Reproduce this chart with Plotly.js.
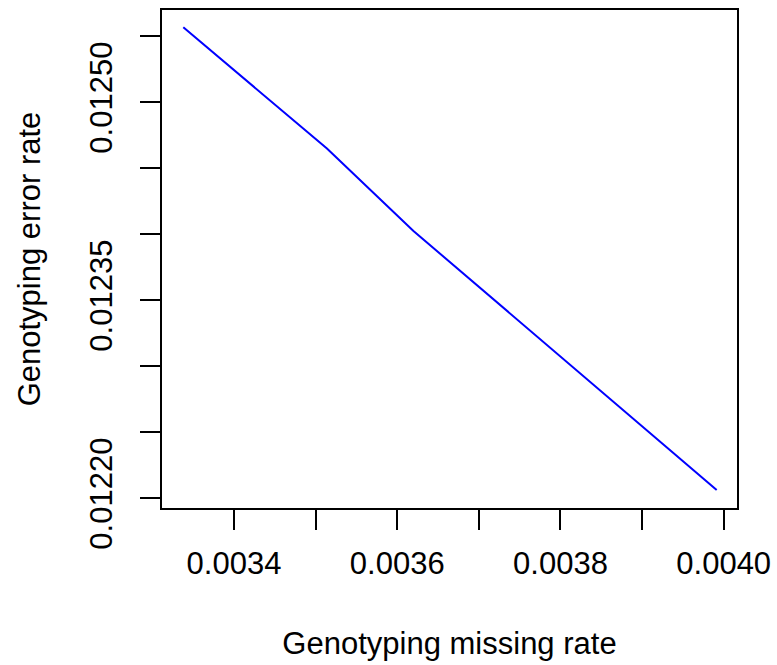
<!DOCTYPE html>
<html>
<head>
<meta charset="utf-8">
<script src="https://cdn.plot.ly/plotly-3.0.1.min.js"></script>
<style>html,body{margin:0;padding:0;background:#fff;}#chart{width:777px;height:665px;}</style>
</head>
<body>
<div id="chart"></div>
<script>
const missingRate = [0.0033379, 0.0035139, 0.0036199, 0.0039914];
const errorRate = [0.0125568, 0.0124650, 0.0124025, 0.0122063];

const xTickVals = [0.0034, 0.0035, 0.0036, 0.0037, 0.0038, 0.0039, 0.0040];
const xTickText = ["0.0034", "", "0.0036", "", "0.0038", "", "0.0040"];
const yTickVals = [0.01220, 0.01225, 0.01230, 0.01235, 0.01240, 0.01245, 0.01250, 0.01255];
const yTickText = ["0.01220", "", "", "0.01235", "", "", "0.01250", ""];

const fontFamily = "Liberation Sans, Arial, sans-serif";

const trace = {
  x: missingRate,
  y: errorRate,
  type: "scatter",
  mode: "lines",
  line: {color: "#0000ff", width: 2},
  hoverinfo: "skip"
};

const axisCommon = {
  showgrid: false,
  zeroline: false,
  showline: true,
  mirror: true,
  linecolor: "#000",
  linewidth: 2,
  ticks: "outside",
  ticklen: 20,
  tickwidth: 2,
  tickcolor: "#000",
  tickmode: "array",
  tickfont: {family: fontFamily, size: 31, color: "#000"}
};

const layout = {
  width: 777,
  height: 665,
  margin: {l: 162, r: 40, t: 10, b: 157},
  paper_bgcolor: "#fff",
  plot_bgcolor: "#fff",
  showlegend: false,
  font: {family: fontFamily, color: "#000"},
  xaxis: Object.assign({}, axisCommon, {
    range: [0.0033118, 0.0040163],
    tickvals: xTickVals,
    ticktext: xTickText,
    ticklabelstandoff: 7,
    title: {text: "Genotyping missing rate", font: {family: fontFamily, size: 31, color: "#000"}, standoff: 52}
  }),
  yaxis: Object.assign({}, axisCommon, {
    range: [0.01219265, 0.0125699],
    tickvals: yTickVals,
    ticktext: yTickText,
    tickangle: -90,
    ticklabelstandoff: 16,
    title: {text: "Genotyping error rate", font: {family: fontFamily, size: 31, color: "#000"}, standoff: 34}
  })
};

Plotly.newPlot("chart", [trace], layout, {displayModeBar: false, staticPlot: true});
</script>
</body>
</html>
